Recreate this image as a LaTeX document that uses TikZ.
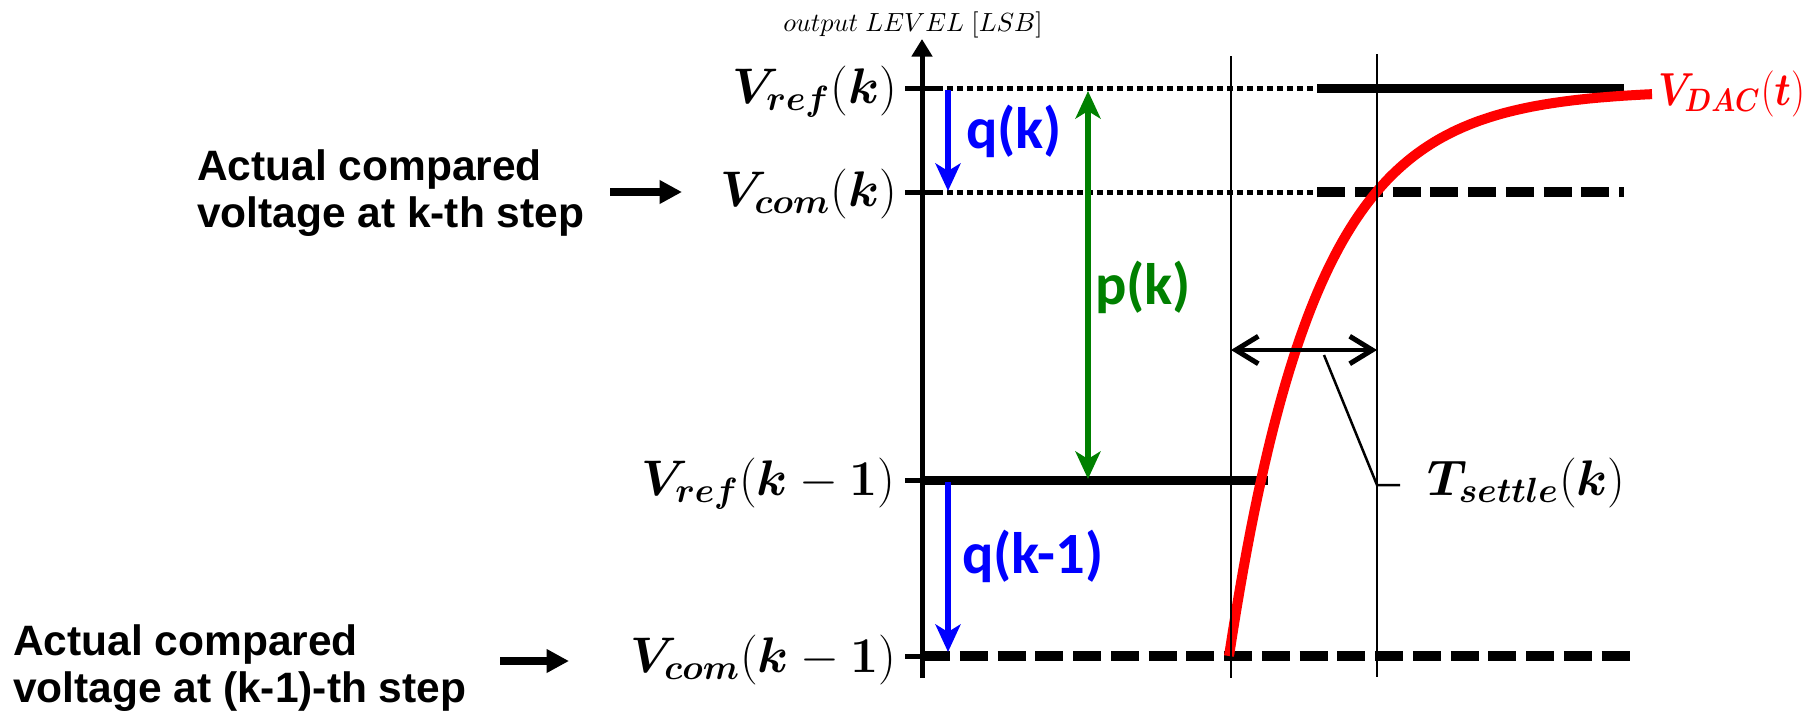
\RequirePackage{fix-cm}
\documentclass[tikz,border=0pt]{standalone}
\usepackage{graphicx}
\usepackage{amsmath}
\usepackage{bm}
\usepackage{fontspec}
\setmainfont{Liberation Sans}
\newfontfamily\calib{Carlito}
\usetikzlibrary{arrows.meta}
\definecolor{dgreen}{RGB}{0,128,0}
\definecolor{pblue}{RGB}{0,0,255}
\definecolor{pred}{RGB}{255,0,0}
\tikzset{
  lbl/.style={inner sep=0pt, outer sep=0pt},
  sidetext/.style={lbl, anchor=base west, font=\fontsize{17pt}{19pt}\selectfont\bfseries},
  mathlbl/.style={lbl, font=\fontsize{20pt}{22pt}\selectfont},
  qlbl/.style={lbl, anchor=base west, font=\fontsize{23.4pt}{24pt}\selectfont\calib\bfseries},
  axisline/.style={line width=2pt},
  tickline/.style={line width=2pt},
  thickline/.style={line width=3.6pt},
  dashline/.style={line width=3.8pt, dash pattern=on 11.2pt off 3.9pt},
  dotline/.style={line width=2pt, dash pattern=on 2.4pt off 1.6pt},
  thinline/.style={line width=1pt},
  qarrow/.style={pblue, line width=2.6pt, -{Stealth[length=11pt,width=10pt,inset=3pt]}},
  parrow/.style={dgreen, line width=2.6pt, {Stealth[length=11pt,width=10pt,inset=3pt]}-{Stealth[length=11pt,width=10pt,inset=3pt]}},
  tarrow/.style={line width=1.7pt, {Straight Barb[length=9pt,width=11pt,line width=2pt]}-{Straight Barb[length=9pt,width=11pt,line width=2pt]}},
  sidearrow/.style={line width=2.9pt, -{Triangle[length=9pt,width=9pt]}},
}
\begin{document}
\begin{tikzpicture}[x=0.4pt,y=-0.4pt]
\useasboundingbox (0,0) rectangle (1813,714);
% coordinates
\coordinate (axB) at (922,678);
\coordinate (axT) at (922,39);
\coordinate (tRk0) at (905,88);   \coordinate (tRk1) at (937,88);
\coordinate (tCk0) at (905,192);  \coordinate (tCk1) at (937,192);
\coordinate (tRj0) at (905,480);  \coordinate (tRj1) at (922,480);
\coordinate (tCj0) at (905,656);  \coordinate (tCj1) at (922,656);
\coordinate (dRkE) at (1317,88);  \coordinate (sRkE) at (1624,88);
\coordinate (dCkE) at (1317,192); \coordinate (sCkE) at (1624,192);
\coordinate (sRjE) at (1268,480);
\coordinate (sCjE) at (1630,656);
\coordinate (v1T) at (1231,56);   \coordinate (v1B) at (1231,678);
\coordinate (v2T) at (1377,54);   \coordinate (v2B) at (1377,677);
\coordinate (qkT) at (948,90);    \coordinate (qkB) at (948,191);
\coordinate (qjT) at (948,482);   \coordinate (qjB) at (948,652);
\coordinate (pT) at (1088,91);    \coordinate (pB) at (1088,479);
\coordinate (tsL) at (1231,350);  \coordinate (tsR) at (1377,350);
\coordinate (ldA) at (1324,355);  \coordinate (ldB) at (1377,485);  \coordinate (ldC) at (1400,485);
\coordinate (a1S) at (610,192);   \coordinate (a1E) at (682,192);
\coordinate (a2S) at (500,661);   \coordinate (a2E) at (569,661);

% horizontal level lines
\draw[dotline] (tRk1) -- (dRkE);
\draw[thickline] (dRkE) -- (sRkE);
\draw[dotline] (tCk1) -- (dCkE);
\draw[dashline] (dCkE) -- (sCkE);
\draw[thickline] (tRj1) -- (sRjE);
\draw[dashline] (tCj1) -- (sCjE);

% red DAC curve
\draw[pred, line width=4pt] plot[domain=1229:1652, samples=120] (\x, {656-566*(1-exp(-(\x-1229)/86))});

% axis and ticks
\draw[axisline, -{Triangle[length=7pt,width=8pt]}] (axB) -- (axT);
\draw[tickline] (tRk0) -- (tRk1);
\draw[tickline] (tCk0) -- (tCk1);
\draw[tickline] (tRj0) -- (tRj1);
\draw[tickline] (tCj0) -- (tCj1);

% thin verticals
\draw[thinline] (v1T) -- (v1B);
\draw[thinline] (v2T) -- (v2B);

% arrows
\draw[qarrow] (qkT) -- (qkB);
\draw[qarrow] (qjT) -- (qjB);
\draw[parrow] (pB) -- (pT);
\draw[tarrow] (tsL) -- (tsR);
\draw[thinline] (ldA) -- (ldB) -- (ldC);
\draw[sidearrow] (a1S) -- (a1E);
\draw[sidearrow] (a2S) -- (a2E);

% labels
\node[lbl, anchor=base, font=\fontsize{10.5pt}{11pt}\selectfont] (axlbl) at (913,31) {$output\;LEVEL\;[LSB]$};
\node[mathlbl, anchor=base east] (lRk) at (897,103) {$\bm{V}_{\bm{ref}}(\bm{k})$};
\node[mathlbl, anchor=base east] (lCk) at (897,206) {$\bm{V}_{\bm{com}}(\bm{k})$};
\node[mathlbl, anchor=base east] (lRj) at (895,495) {$\bm{V}_{\bm{ref}}(\bm{k}-\bm{1})$};
\node[mathlbl, anchor=base east] (lCj) at (896,672) {$\bm{V}_{\bm{com}}(\bm{k}-\bm{1})$};
\node[mathlbl, anchor=base west] (lTs) at (1427,495) {$\bm{T}_{\bm{settle}}(\bm{k})$};
\node[lbl, anchor=base west, text=pred, font=\fontsize{18.5pt}{20pt}\selectfont] (lDac) at (1658,105) {\scalebox{0.85}[1]{$\bm{V}_{\bm{DAC}}(\bm{t})$}};
\node[qlbl, text=pblue] (lqk) at (966,148) {q(k)};
\node[qlbl, text=pblue] (lqj) at (962,573) {q(k-1)};
\node[qlbl, text=dgreen] (lpk) at (1095,304) {p(k)};
\node[sidetext] (s1a) at (197,180) {Actual compared};
\node[sidetext] (s1b) at (197,227) {voltage at k-th step};
\node[sidetext] (s2a) at (13,655) {Actual compared};
\node[sidetext] (s2b) at (13,702) {voltage at (k-1)-th step};
\end{tikzpicture}
\end{document}
